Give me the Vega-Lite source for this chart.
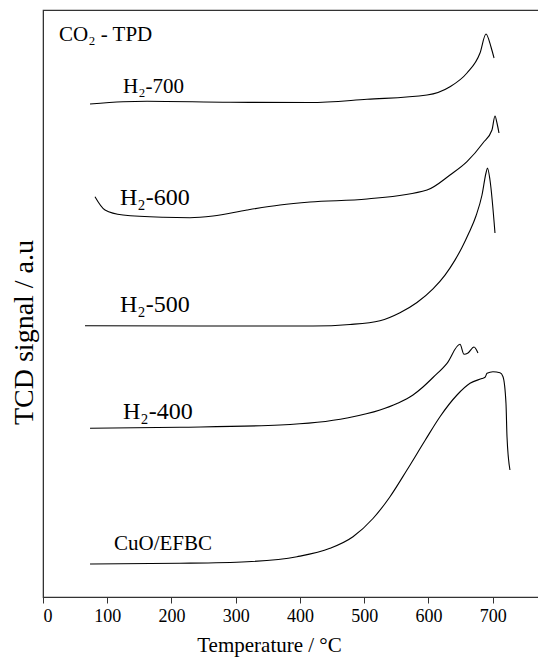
{
  "$schema": "https://vega.github.io/schema/vega-lite/v6.json",
  "width": 496,
  "height": 587,
  "autosize": {"type": "none"},
  "padding": {"left": 43, "top": 10, "right": 0, "bottom": 60},
  "config": {
    "view": {"stroke": "#333", "strokeWidth": 1.2},
    "font": "Liberation Serif",
    "text": {"font": "Liberation Serif", "color": "black", "align": "left", "baseline": "alphabetic"}
  },
  "datasets": {
    "curves": [
      {"series": "H2-700", "T": 73.2, "s": 493},
      {"series": "H2-700", "T": 124.5, "s": 495.3},
      {"series": "H2-700", "T": 161.9, "s": 495.7},
      {"series": "H2-700", "T": 291.1, "s": 494.7},
      {"series": "H2-700", "T": 415.6, "s": 494.5},
      {"series": "H2-700", "T": 504.3, "s": 497.7},
      {"series": "H2-700", "T": 597.7, "s": 502},
      {"series": "H2-700", "T": 633.5, "s": 510.3},
      {"series": "H2-700", "T": 659.9, "s": 524},
      {"series": "H2-700", "T": 680.2, "s": 544},
      {"series": "H2-700", "T": 689.5, "s": 563},
      {"series": "H2-700", "T": 697.3, "s": 550},
      {"series": "H2-700", "T": 702, "s": 539},

      {"series": "H2-600", "T": 80.9, "s": 400.3},
      {"series": "H2-600", "T": 96.5, "s": 387},
      {"series": "H2-600", "T": 124.5, "s": 382},
      {"series": "H2-600", "T": 186.8, "s": 379.7},
      {"series": "H2-600", "T": 228.8, "s": 379.3},
      {"series": "H2-600", "T": 264.6, "s": 381},
      {"series": "H2-600", "T": 317.5, "s": 387},
      {"series": "H2-600", "T": 368.9, "s": 392},
      {"series": "H2-600", "T": 415.6, "s": 395},
      {"series": "H2-600", "T": 504.3, "s": 398},
      {"series": "H2-600", "T": 597.7, "s": 407},
      {"series": "H2-600", "T": 633.5, "s": 422},
      {"series": "H2-600", "T": 659.9, "s": 435.3},
      {"series": "H2-600", "T": 684.8, "s": 454},
      {"series": "H2-600", "T": 698.8, "s": 467},
      {"series": "H2-600", "T": 703.5, "s": 481},
      {"series": "H2-600", "T": 706.6, "s": 474},
      {"series": "H2-600", "T": 709.7, "s": 464},

      {"series": "H2-500", "T": 65.4, "s": 271.3},
      {"series": "H2-500", "T": 244.4, "s": 271},
      {"series": "H2-500", "T": 420.2, "s": 271},
      {"series": "H2-500", "T": 477.8, "s": 272.5},
      {"series": "H2-500", "T": 524.5, "s": 276.3},
      {"series": "H2-500", "T": 555.6, "s": 284.3},
      {"series": "H2-500", "T": 582.1, "s": 294.5},
      {"series": "H2-500", "T": 607.0, "s": 308.1},
      {"series": "H2-500", "T": 625.7, "s": 321.9},
      {"series": "H2-500", "T": 641.2, "s": 336.9},
      {"series": "H2-500", "T": 652.1, "s": 349.5},
      {"series": "H2-500", "T": 663.0, "s": 364.2},
      {"series": "H2-500", "T": 673.9, "s": 381},
      {"series": "H2-500", "T": 683.3, "s": 402},
      {"series": "H2-500", "T": 689.5, "s": 424},
      {"series": "H2-500", "T": 691.8, "s": 429},
      {"series": "H2-500", "T": 695.7, "s": 417},
      {"series": "H2-500", "T": 703.5, "s": 364},

      {"series": "H2-400", "T": 73.2, "s": 168.7},
      {"series": "H2-400", "T": 213.2, "s": 169.7},
      {"series": "H2-400", "T": 368.9, "s": 172},
      {"series": "H2-400", "T": 473.2, "s": 179},
      {"series": "H2-400", "T": 524.5, "s": 187},
      {"series": "H2-400", "T": 551.0, "s": 193.5},
      {"series": "H2-400", "T": 575.9, "s": 202},
      {"series": "H2-400", "T": 591.4, "s": 210},
      {"series": "H2-400", "T": 607.0, "s": 219.5},
      {"series": "H2-400", "T": 628.8, "s": 233.7},
      {"series": "H2-400", "T": 649.0, "s": 252.7},
      {"series": "H2-400", "T": 655.3, "s": 242.7},
      {"series": "H2-400", "T": 661.5, "s": 244},
      {"series": "H2-400", "T": 670.8, "s": 250},
      {"series": "H2-400", "T": 677.0, "s": 244},

      {"series": "CuO", "T": 73.2, "s": 33},
      {"series": "CuO", "T": 213.2, "s": 33.7},
      {"series": "CuO", "T": 317.5, "s": 35.3},
      {"series": "CuO", "T": 395.3, "s": 40.3},
      {"series": "CuO", "T": 446.7, "s": 48.7},
      {"series": "CuO", "T": 482.5, "s": 60.3},
      {"series": "CuO", "T": 513.6, "s": 78.5},
      {"series": "CuO", "T": 540.1, "s": 100.3},
      {"series": "CuO", "T": 566.5, "s": 127},
      {"series": "CuO", "T": 594.6, "s": 156.5},
      {"series": "CuO", "T": 617.9, "s": 180.3},
      {"series": "CuO", "T": 644.4, "s": 202},
      {"series": "CuO", "T": 664.6, "s": 213.7},
      {"series": "CuO", "T": 683.3, "s": 218.5},
      {"series": "CuO", "T": 688.0, "s": 219.7},
      {"series": "CuO", "T": 691.1, "s": 223.7},
      {"series": "CuO", "T": 700.4, "s": 225.3},
      {"series": "CuO", "T": 711.3, "s": 224.3},
      {"series": "CuO", "T": 716.0, "s": 220.3},
      {"series": "CuO", "T": 720.6, "s": 193.7},
      {"series": "CuO", "T": 722.2, "s": 160.3},
      {"series": "CuO", "T": 726.8, "s": 127}
    ],
    "labels": [
      {"label": "CO₂ - TPD", "T": 24.9, "s": 556},
      {"label": "H₂-700", "T": 124.5, "s": 504},
      {"label": "H₂-600", "T": 119.8, "s": 392},
      {"label": "H₂-500", "T": 119.8, "s": 285},
      {"label": "H₂-400", "T": 124.5, "s": 178},
      {"label": "CuO/EFBC", "T": 110.5, "s": 47}
    ]
  },
  "encoding": {
    "x": {
      "field": "T", "type": "quantitative",
      "scale": {"domain": [0, 772], "nice": false, "zero": false},
      "axis": {
        "values": [0, 100, 200, 300, 400, 500, 600, 700],
        "title": "Temperature / °C",
        "grid": false, "tickSize": 6, "tickColor": "#333", "domainColor": "#333",
        "labelFontSize": 18, "labelColor": "black", "labelFont": "Liberation Serif", "labelPadding": 4,
        "titleFontSize": 21, "titleColor": "black", "titleFont": "Liberation Serif", "titleFontWeight": "normal",
        "titlePadding": 9, "titleX": 226, "titleAlign": "center"
      }
    },
    "y": {
      "field": "s", "type": "quantitative",
      "scale": {"domain": [0, 587], "nice": false, "zero": false},
      "axis": {
        "title": "TCD signal / a.u", "labels": false, "ticks": false, "grid": false, "domainColor": "#333",
        "titleFontSize": 28, "titleColor": "black", "titleFont": "Liberation Serif", "titleFontWeight": "normal",
        "titlePadding": 5, "titleY": 322, "titleAlign": "center"
      }
    }
  },
  "layer": [
    {
      "data": {"name": "curves"},
      "mark": {"type": "line", "color": "black", "strokeWidth": 1.1, "interpolate": "monotone"},
      "encoding": {"detail": {"field": "series"}}
    },
    {
      "data": {"name": "labels"},
      "transform": [{"filter": "datum.label == 'CO₂ - TPD' || datum.label == 'H₂-700' || datum.label == 'CuO/EFBC'"}],
      "mark": {"type": "text", "fontSize": 21},
      "encoding": {"text": {"field": "label"}}
    },
    {
      "data": {"name": "labels"},
      "transform": [{"filter": "datum.label == 'H₂-600' || datum.label == 'H₂-500' || datum.label == 'H₂-400'"}],
      "mark": {"type": "text", "fontSize": 24},
      "encoding": {"text": {"field": "label"}}
    }
  ]
}
